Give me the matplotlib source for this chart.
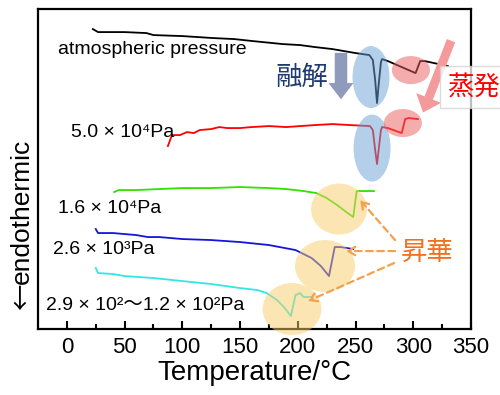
import matplotlib
matplotlib.use("Agg")
import matplotlib.pyplot as plt
from matplotlib.patches import Ellipse

plt.rcParams['font.family'] = ['Liberation Sans', 'Noto Sans CJK JP', 'DejaVu Sans']

# DSC curves, signal in arbitrary units
t_atm = [22.5, 27, 50, 69, 75, 100, 127, 145, 161, 187, 202, 215, 230, 250, 262, 265, 267, 268.6, 270, 272, 273, 278, 302, 306, 310, 330]
s_atm = [300, 297, 297, 296, 294, 293, 291, 290, 288, 285, 284, 282, 280, 276, 274, 269, 249, 226, 244, 267, 270, 268, 256, 268, 268, 263]

t_5e4 = [87.5, 91, 98, 104, 110, 115, 125, 132, 139, 150, 160, 175, 190, 202, 215, 230, 245, 262.5, 265, 267, 268.6, 270, 272, 273, 278, 290, 293, 296, 304]
s_5e4 = [183, 194, 194, 197, 196, 199, 200, 202, 201, 201, 202, 203, 202, 203, 204, 205, 204, 203, 199, 179, 165, 179, 199, 202, 201, 196, 210, 211, 210]

t_16e4 = [41, 45, 60, 80, 100, 125, 150, 175, 190, 205, 216, 225, 234, 242, 248, 251, 266]
s_16e4 = [137, 139, 139, 140, 141, 141, 142, 141, 140, 138, 136, 131, 124, 117, 112, 138, 138]

t_26e3 = [25, 27, 40, 60, 70, 80, 100, 125, 150, 175, 198, 205, 212, 220, 227, 232, 237, 248]
s_26e3 = [100, 96, 96, 94, 92, 92, 90, 89, 87, 84, 79, 75, 71, 63, 53, 82, 82, 80]

t_29e2 = [25, 27, 40, 50, 75, 100, 125, 150, 165, 173, 182, 188, 194, 198, 202, 205, 212]
s_29e2 = [61, 56, 55, 53, 51, 48, 45, 41, 39, 36, 29, 22, 13, 34, 36, 32, 32]

labels = ["atmospheric pressure", "5.0 × 10⁴Pa", "1.6 × 10⁴Pa",
          "2.6 × 10³Pa", "2.9 × 10²～1.2 × 10²Pa"]
label_pos = [(-7.8, 275), (3.5, 192), (-7.8, 116), (-12.1, 75), (-18.2, 19)]

fig = plt.figure(figsize=(5, 3.95), dpi=100)
ax = fig.add_axes([0.076, 0.167, 0.866, 0.810])

ax.plot(t_atm, s_atm, color='black', lw=1.3)
ax.plot(t_5e4, s_5e4, color='#ff0000', lw=1.3)
ax.plot(t_16e4, s_16e4, color='#33e000', lw=1.3)
ax.plot(t_26e3, s_26e3, color='#1414dc', lw=1.3)
ax.plot(t_29e2, s_29e2, color='#33e6e6', lw=1.3)

for txt, (x, y) in zip(labels, label_pos):
    ax.text(x, y, txt, fontsize=14, va='baseline', ha='left')

# highlight circles
for c, w, h in [((263.4, 252), 32, 62), ((264.3, 181), 32, 67)]:
    ax.add_patch(Ellipse(c, w, h, color='#69a1d7', alpha=0.5, lw=0, zorder=3))
for c, w, h in [((298, 259), 33, 28), ((291, 206), 33, 28)]:
    ax.add_patch(Ellipse(c, w, h, color='#eb5a5a', alpha=0.5, lw=0, zorder=3))
for c, w, h in [((235.7, 120), 48.5, 51), ((223.6, 63), 52, 52), ((195, 20), 51, 52)]:
    ax.add_patch(Ellipse(c, w, h, color='#f7cd69', alpha=0.5, lw=0, zorder=3, clip_on=False))

# melting arrow + text
ax.annotate('', xy=(237.4, 227), xytext=(237.4, 279),
            arrowprops=dict(arrowstyle='simple,head_length=1.3,head_width=2.0,tail_width=1.0',
                            mutation_scale=9, color='#8e9bbd', lw=0))
ax.text(203.6, 252, "融解", fontsize=19, color='#1f3a6e', ha='center', va='center',
        family=['Noto Sans CJK JP'])

# evaporation arrow + text
ax.annotate('', xy=(307.6, 214), xytext=(333.6, 291),
            arrowprops=dict(arrowstyle='simple,head_length=1.4,head_width=2.4,tail_width=0.8',
                            mutation_scale=8, color='#f49a9a', lw=0))
ax.text(352.7, 242, "蒸発", fontsize=19, color='#ff0000', ha='center', va='center',
        family=['Noto Sans CJK JP'], clip_on=False, zorder=5,
        bbox=dict(boxstyle='square,pad=0.3', fc='white', ec='#d0d0d0', alpha=0.75))

# sublimation arrows + text
for (x0, y0), (x1, y1) in [((284.2, 89), (253.9, 129)), ((284.2, 78), (241.8, 78)),
                           ((283.4, 66), (208.8, 28))]:
    ax.annotate('', xy=(x1, y1), xytext=(x0, y0),
                arrowprops=dict(arrowstyle='->,head_length=0.5,head_width=0.3',
                                color='#f4a04c', lw=1.6, linestyle=(0, (3, 2)),
                                shrinkA=0, shrinkB=0))
ax.text(312, 77, "昇華", fontsize=19, color='#f07020', ha='center', va='center',
        family=['Noto Sans CJK JP'])

ax.set_xlim(-25, 350)
ax.set_ylim(0, 320)
ax.set_xticks(range(0, 351, 50))
ax.set_xticks(range(25, 350, 50), minor=True)
ax.set_yticks([])
ax.tick_params(axis='x', which='major', direction='in', length=6, width=1.5, labelsize=16, pad=6)
ax.tick_params(axis='x', which='minor', direction='in', length=3.5, width=1.5)
for sp in ax.spines.values():
    sp.set_linewidth(1.6)

ax.set_xlabel("Temperature/°C", fontsize=20, labelpad=1)
fig.text(22 / 500, 1 - 211 / 395, "endothermic", fontsize=19, rotation=90,
         ha='center', va='center')
fig.text(22 / 500, 1 - 297 / 395, "←", fontsize=19, rotation=90,
         ha='center', va='center', family=['Noto Sans CJK JP'])

fig.savefig("out.png", dpi=100)
